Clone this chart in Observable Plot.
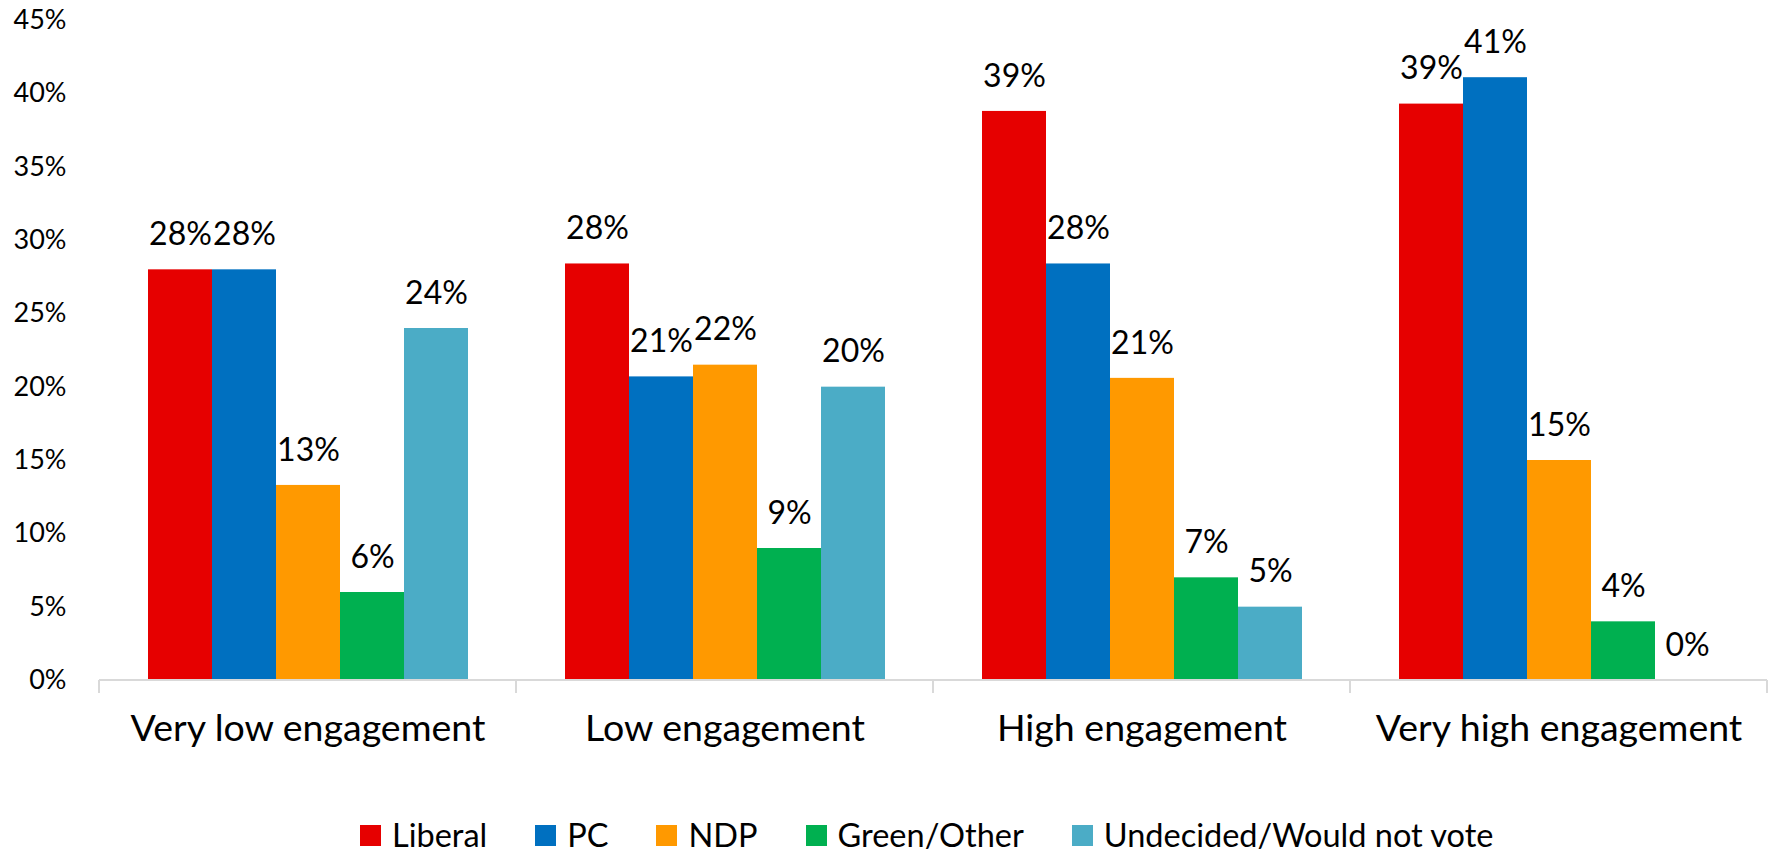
<!DOCTYPE html>
<html>
<head>
<meta charset="utf-8">
<script src="https://cdn.jsdelivr.net/npm/d3@7"></script>
<script src="https://cdn.jsdelivr.net/npm/@observablehq/plot@0.6"></script>
<style>
  html, body { margin: 0; padding: 0; background: #fff; }
  body { position: relative; width: 1769px; height: 852px; overflow: hidden; font-family: Lato, sans-serif; }
  #legend { position: absolute; left: 360px; top: 818px; display: flex; align-items: center; font-family: Lato, sans-serif; font-size: 32.5px; line-height: 1; color: #000; white-space: nowrap; }
  #legend .item { display: flex; align-items: center; margin-right: 48px; height: 34px; }
  #legend .sw { width: 21px; height: 21px; margin-right: 11px; }
</style>
</head>
<body>
<div id="chart"></div>
<div id="legend"></div>
<script>
const categories = ["Very low engagement", "Low engagement", "High engagement", "Very high engagement"];
const parties = ["Liberal", "PC", "NDP", "Green/Other", "Undecided/Would not vote"];
const colors = ["#e60000", "#0070c0", "#ff9900", "#00b050", "#4bacc6"];
const liberal = [28.0, 28.4, 38.8, 39.3];
const pc = [28.0, 20.7, 28.4, 41.1];
const ndp = [13.3, 21.5, 20.6, 15.0];
const green = [6.0, 9.0, 7.0, 4.0];
const undecided = [24.0, 20.0, 5.0, 0.0];
const yTicks = [0, 5, 10, 15, 20, 25, 30, 35, 40, 45];

const series = [liberal, pc, ndp, green, undecided];
const rows = [];
categories.forEach((c, i) => {
  parties.forEach((p, j) => {
    rows.push({category: c, party: p, value: series[j][i]});
  });
});

const separators = Plot.ruleY([0], {
  render(index, scales, values, dimensions) {
    const x0 = dimensions.marginLeft;
    const x1 = dimensions.width - dimensions.marginRight;
    const y0 = scales.y(0);
    const g = d3.create("svg:g")
      .attr("stroke", "#d9d9d9")
      .attr("stroke-width", 2)
      .attr("fill", "none");
    g.append("path").attr("d", `M${x0},${y0}H${x1}`);
    g.append("path").attr("d", `M${x0},${y0}V${y0 + 13}M${x1},${y0}V${y0 + 13}`);
    return g.node();
  }
});

const chart = Plot.plot({
  width: 1769,
  height: 780,
  marginTop: 20,
  marginBottom: 100,
  marginLeft: 98,
  marginRight: 2,
  style: {fontFamily: "Lato, sans-serif", color: "#000", background: "#fff"},
  fx: {domain: categories, padding: 0, label: null},
  x: {domain: parties, paddingInner: 0, paddingOuter: 0.74, axis: null},
  y: {domain: [0, 45], label: null},
  color: {domain: parties, range: colors},
  marks: [
    Plot.barY(rows, {fx: "category", x: "party", y: "value", fill: "party"}),
    separators,
    Plot.text(rows, {fx: "category", x: "party", y: "value", text: d => Math.round(d.value) + "%", dy: -35, fontSize: 32, fill: "#000"}),
    Plot.axisY(yTicks, {tickSize: 0, tickPadding: 33, tickFormat: d => d + "%", fontSize: 27, label: null}),
    Plot.axisFx({anchor: "bottom", tickSize: 0, tickPadding: 34, fontSize: 37.5, label: null})
  ]
});
document.getElementById("chart").appendChild(chart);

const legend = document.getElementById("legend");
parties.forEach((p, i) => {
  const item = document.createElement("div");
  item.className = "item";
  const sw = document.createElement("span");
  sw.className = "sw";
  sw.style.background = colors[i];
  const t = document.createElement("span");
  t.textContent = p;
  item.appendChild(sw);
  item.appendChild(t);
  legend.appendChild(item);
});
</script>
</body>
</html>
